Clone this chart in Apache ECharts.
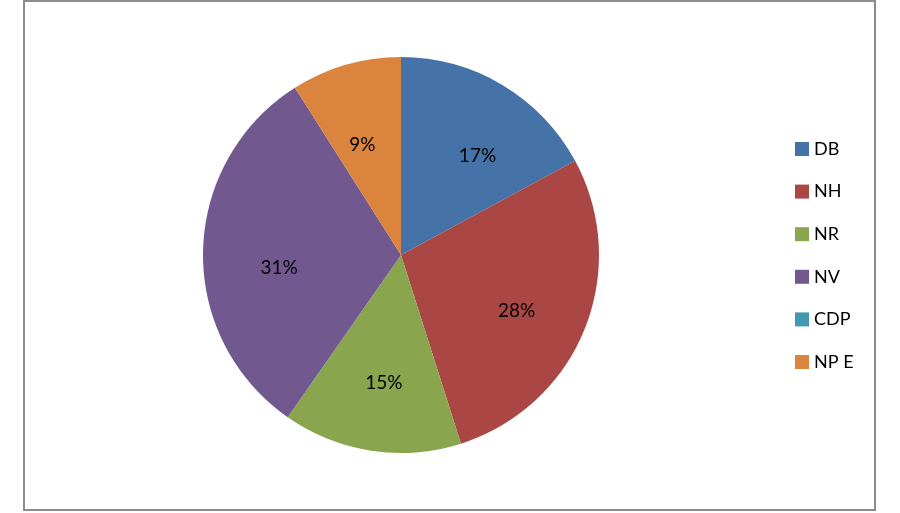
<!DOCTYPE html>
<html><head><meta charset="utf-8">
<script src="https://cdn.jsdelivr.net/npm/echarts@6/dist/echarts.min.js"></script>
<style>html,body{margin:0;padding:0;background:#fff}#c{width:900px;height:513px}</style>
</head><body><div id="c"></div>
<script>
const categories = ['DB', 'NH', 'NR', 'NV', 'CDP', 'NP E'];
const values = [17.1, 28, 14.6, 31.3, 0, 9];
const colors = ['#4572A7', '#AA4643', '#89A54E', '#71588F', '#4198AF', '#DB843D'];
// small label nudges (px) to match the reference's label placement
const labelNudge = [[11, 11], [-3, 8], [2, 1], [6, 16], [0, 0], [-3, 13]];

const data = categories.map((c, i) => ({ name: c, value: values[i], itemStyle: { color: colors[i] } }));
const font = 'Lato, "Open Sans", sans-serif';
const chart = echarts.init(document.getElementById('c'));
chart.setOption({
  animation: false,
  graphic: [{ type: 'rect', shape: { x: 24, y: 1, width: 851, height: 509 }, style: { fill: 'none', stroke: '#8c8c8c', lineWidth: 2 }, z: 100 }],
  legend: {
    orient: 'vertical', left: 790, top: 135, itemWidth: 14, itemHeight: 14, itemGap: 24.6,
    icon: 'rect',
    textStyle: { fontSize: 18, fontFamily: font, color: '#000' },
    data: categories.map((c, i) => ({ name: c, itemStyle: { color: colors[i] } }))
  },
  series: [{
    type: 'pie', center: [401, 255], radius: [0, 198], startAngle: 90, clockwise: true,
    data: data, label: { show: false }, labelLine: { show: false },
    itemStyle: { borderWidth: 0 }, emphasis: { disabled: true }
  }, {
    type: 'pie', center: [401, 255], radius: [52, 198], startAngle: 90, clockwise: true,
    data: data.map(d => ({ name: d.name, value: d.value, itemStyle: { color: 'rgba(0,0,0,0)' } })),
    itemStyle: { borderWidth: 0 }, emphasis: { disabled: true }, silent: true,
    label: {
      show: true, position: 'inside', fontSize: 19, fontFamily: font, color: '#000',
      formatter: p => p.value > 0 ? Math.round(p.percent) + '%' : ''
    },
    labelLayout: p => ({ dx: labelNudge[p.dataIndex][0], dy: labelNudge[p.dataIndex][1] }),
    labelLine: { show: false }
  }]
});
</script></body></html>
